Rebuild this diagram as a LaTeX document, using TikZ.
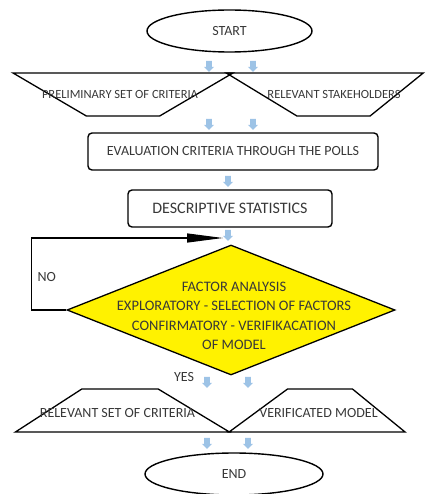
\documentclass[tikz,border=0pt]{standalone}
\usepackage{fontspec}
\setmainfont{Carlito}
\usetikzlibrary{shapes.geometric, shapes.arrows, arrows.meta, positioning}
\definecolor{txtgray}{HTML}{383838}
\definecolor{flowblue}{HTML}{9DC3E6}

\begin{document}
\begin{tikzpicture}[
    x=1pt, y=-1pt,
    font=\fontsize{14}{17}\selectfont, text=txtgray,
    terminal/.style={ellipse, draw, line width=1.4pt, inner sep=0pt},
    dataio/.style={trapezium, trapezium stretches=true, draw, line width=1.3pt, inner sep=1pt, minimum height=43pt},
    process/.style={rectangle, draw, rounded corners=4pt, line width=1.4pt, minimum height=37pt},
    decision/.style={diamond, draw, fill=yellow, line width=1.3pt, inner sep=1pt},
    flow/.style={single arrow, fill=flowblue, rotate=-90, inner sep=2.6pt, single arrow head extend=2.3pt, minimum height=11pt},
    arrow/.style={-{Triangle[length=36pt, width=9pt]}, line width=1.2pt}
]
    \useasboundingbox (0,0) rectangle (434,494);

    \node[terminal, minimum width=165pt, minimum height=42pt] (start) at (229.5,31) {START};

    \node[dataio, trapezium left angle=135, trapezium right angle=135, minimum width=220pt] (prelim) at (123,94.5) {};
    \node[font=\fontsize{12.5}{15}\selectfont] (prelimtxt) at (120,94) {PRELIMINARY SET OF CRITERIA};
    \node[dataio, trapezium left angle=134, trapezium right angle=126, minimum width=197pt] (stake) at (333.5,94.5) {};
    \node[font=\fontsize{12.5}{15}\selectfont] (staketxt) at (334,94) {RELEVANT STAKEHOLDERS};

    \node[process, minimum width=290pt] (eval) at (233,151.5) {EVALUATION CRITERIA THROUGH THE POLLS};
    \node[process, minimum width=204pt, font=\fontsize{16}{19}\selectfont] (desc) at (230,208.5) {DESCRIPTIVE STATISTICS};

    \node[decision, minimum width=328pt, minimum height=130pt] (fa) at (231,310) {};
    \node[align=center, font=\fontsize{14.5}{19.5}\selectfont] (fatxt) at (234,316) {FACTOR ANALYSIS\\EXPLORATORY - SELECTION OF FACTORS\\CONFIRMATORY - VERIFIKACATION\\OF MODEL};

    \node[anchor=west] (no) at (34,277) {NO};
    \node (yes) at (184,377) {YES};

    \node[dataio, trapezium left angle=49, trapezium right angle=47, minimum width=214pt] (relset) at (120,410.5) {};
    \node (relsettxt) at (117.5,413) {RELEVANT SET OF CRITERIA};
    \node[dataio, trapezium left angle=48, trapezium right angle=51, minimum width=176pt] (model) at (320,410.5) {};
    \node (modeltxt) at (318.5,413) {VERIFICATED MODEL};

    \node[terminal, minimum width=178pt, minimum height=42pt] (end) at (234,474) {END};

    % blue block arrows
    \node[flow] (fl1) at (209,65) {};
    \node[flow] (fl2) at (253,65) {};
    \node[flow] (fl3) at (209,123) {};
    \node[flow] (fl4) at (253,123) {};
    \node[flow] (fl5) at (228,180) {};
    \node[flow] (fl6) at (228,234) {};
    \node[flow] (fl7) at (207,381) {};
    \node[flow] (fl8) at (248,381) {};
    \node[flow] (fl9) at (207,442) {};
    \node[flow] (fl10) at (248,442) {};

    % loop back
    \coordinate (notip) at (223,238);
    \draw[arrow] (fa.west) -- ++(-35,0) |- (notip);
\end{tikzpicture}
\end{document}
